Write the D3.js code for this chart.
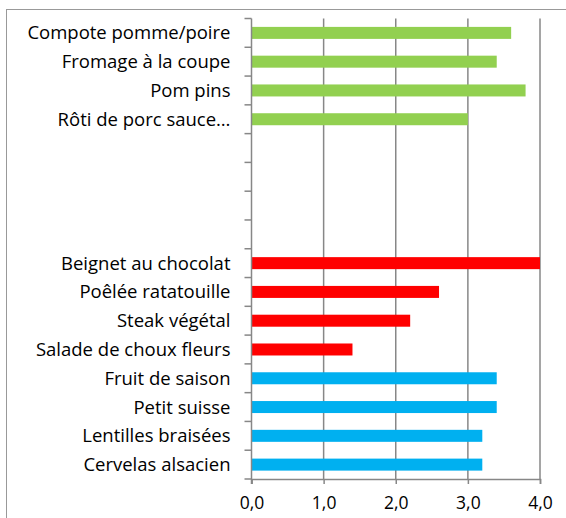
<!DOCTYPE html>
<html>
<head>
<meta charset="utf-8">
<script src="https://cdn.jsdelivr.net/npm/d3@7"></script>
<style>
  body { margin: 0; background: #fff; }
  svg { display: block; }
</style>
</head>
<body>
<script>
// rows from top to bottom, blank rows are empty labels
const labels = [
  "Compote pomme/poire", "Fromage à la coupe", "Pom pins", "Rôti de porc sauce…",
  "", "", "", "",
  "Beignet au chocolat", "Poêlée ratatouille", "Steak végétal", "Salade de choux fleurs",
  "Fruit de saison", "Petit suisse", "Lentilles braisées", "Cervelas alsacien"
];
const values = [3.6, 3.4, 3.8, 3.0, null, null, null, null, 4.0, 2.6, 2.2, 1.4, 3.4, 3.4, 3.2, 3.2];
const groups = ["g", "g", "g", "g", null, null, null, null, "r", "r", "r", "r", "b", "b", "b", "b"];
const xTicks = [0, 1, 2, 3, 4];

const width = 566, height = 518;
const margin = { top: 18.5, right: 26, bottom: 39, left: 251.5 };
const colors = { g: "#92D050", r: "#FF0000", b: "#00B0F0" };
const grid = "#878787";
const font = "18.5px 'Open Sans', sans-serif";

const svg = d3.select("body").append("svg")
    .attr("width", width)
    .attr("height", height);

// outer chart frame (cut off at right and bottom)
svg.append("rect")
    .attr("x", 6.5).attr("y", 9.5)
    .attr("width", 600).attr("height", 600)
    .attr("fill", "none")
    .attr("stroke", "#999")
    .attr("stroke-width", 1);

const x = d3.scaleLinear()
    .domain([0, 4])
    .range([margin.left, width - margin.right]);

const y = d3.scaleBand()
    .domain(d3.range(labels.length))
    .range([margin.top, height - margin.bottom])
    .padding(0);

// vertical grid lines
svg.append("g")
    .selectAll("line")
    .data(xTicks.slice(1))
    .join("line")
    .attr("x1", d => x(d)).attr("x2", d => x(d))
    .attr("y1", margin.top).attr("y2", height - margin.bottom)
    .attr("stroke", grid)
    .attr("stroke-width", 1.5);

// bars
const barH = 12;
svg.append("g")
    .selectAll("rect")
    .data(values.map((v, i) => ({ v, i })).filter(d => d.v != null))
    .join("rect")
    .attr("x", x(0))
    .attr("y", d => y(d.i) + y.bandwidth() / 2 - barH / 2)
    .attr("width", d => x(d.v) - x(0))
    .attr("height", barH)
    .attr("fill", d => colors[groups[d.i]]);

// x axis
const xAxis = svg.append("g")
    .attr("transform", `translate(0,${height - margin.bottom})`)
    .call(d3.axisBottom(x).tickValues(xTicks).tickFormat(d => d3.format(".1f")(d).replace(".", ",")).tickSizeOuter(0).tickSize(5).tickPadding(13));
xAxis.select(".domain").attr("stroke", grid).attr("stroke-width", 1.5);
xAxis.selectAll(".tick line").attr("stroke", grid).attr("stroke-width", 1.5);
xAxis.selectAll("text")
    .attr("fill", "#000")
    .style("font", "17.5px 'Open Sans', sans-serif");

// y axis: ticks on band boundaries
const yg = svg.append("g");
yg.append("line")
    .attr("x1", x(0)).attr("x2", x(0))
    .attr("y1", margin.top).attr("y2", height - margin.bottom + 5)
    .attr("stroke", grid).attr("stroke-width", 1.5);
yg.selectAll("line.tick")
    .data(d3.range(labels.length + 1))
    .join("line")
    .attr("class", "tick")
    .attr("x1", x(0) - 7).attr("x2", x(0))
    .attr("y1", i => margin.top + i * y.step())
    .attr("y2", i => margin.top + i * y.step())
    .attr("stroke", grid).attr("stroke-width", 1.5);

yg.selectAll("text")
    .data(labels)
    .join("text")
    .attr("x", x(0) - 21)
    .attr("y", (d, i) => y(i) + y.bandwidth() / 2)
    .attr("dy", "0.35em")
    .attr("text-anchor", "end")
    .style("font", font)
    .attr("fill", "#000")
    .text(d => d);
</script>
</body>
</html>
